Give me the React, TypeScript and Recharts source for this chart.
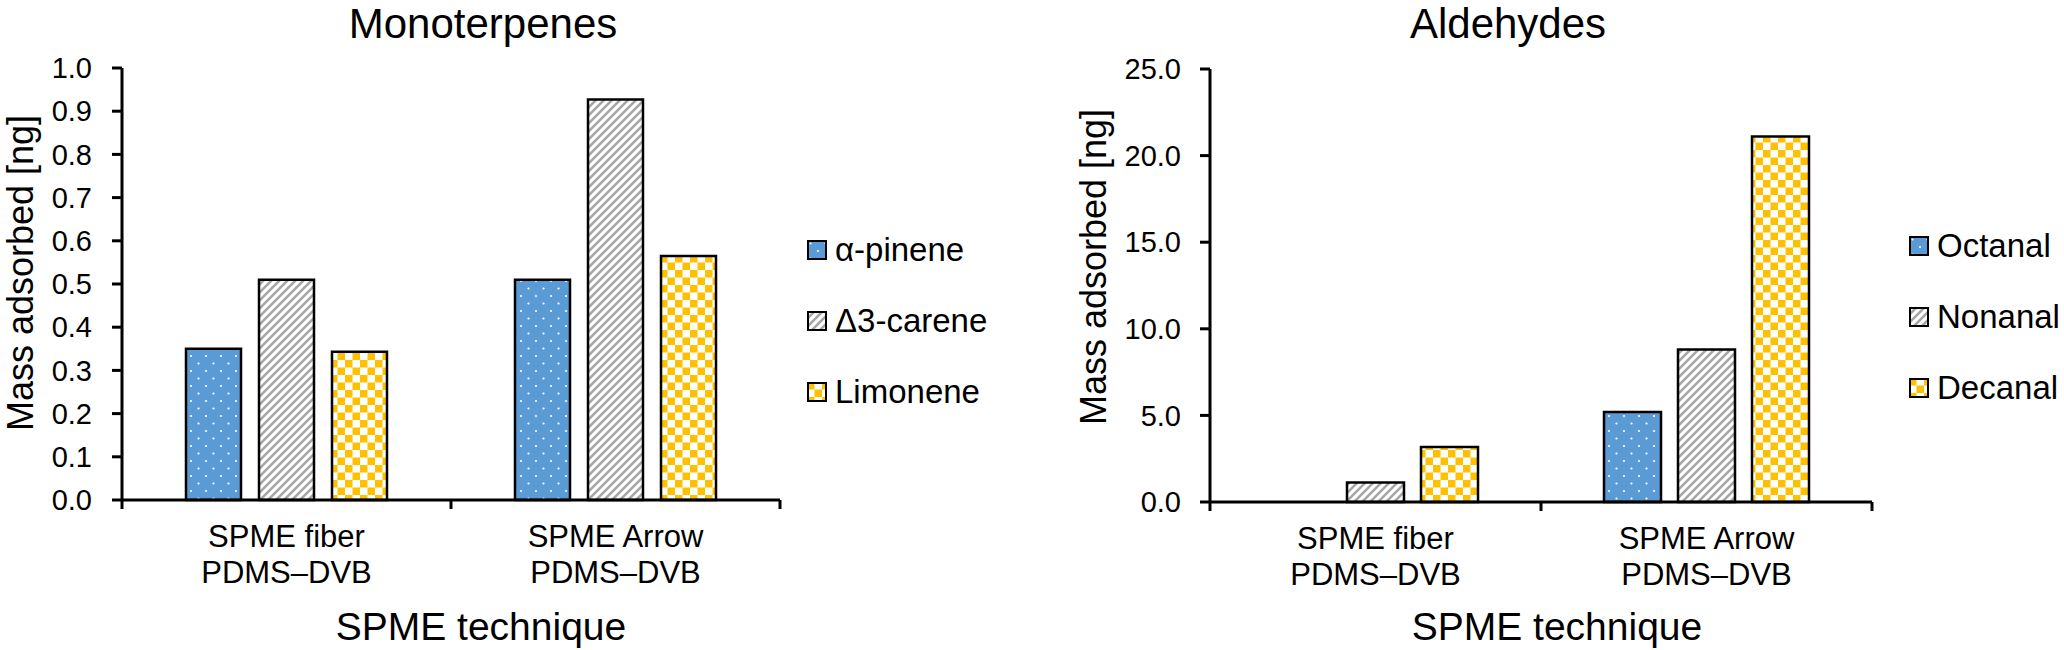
import { Bar, BarChart, Legend, XAxis, YAxis } from "recharts";

const FONT = '"Liberation Sans", Arial, Helvetica, sans-serif';

// categories on the x axis (two lines each)
const categories = ["SPME fiber", "SPME Arrow"];
const coatings = ["PDMS–DVB", "PDMS–DVB"];

// Monoterpenes, mass adsorbed [ng]
const alphaPinene = [0.35, 0.51];
const delta3Carene = [0.51, 0.927];
const limonene = [0.343, 0.565];
const monoTicks = [0, 0.1, 0.2, 0.3, 0.4, 0.5, 0.6, 0.7, 0.8, 0.9, 1.0];

// Aldehydes, mass adsorbed [ng]
const octanal = [0, 5.2];
const nonanal = [1.13, 8.8];
const decanal = [3.17, 21.1];
const aldTicks = [0, 5, 10, 15, 20, 25];

const monoData = categories.map((category, i) => ({
  category,
  alphaPinene: alphaPinene[i],
  delta3Carene: delta3Carene[i],
  limonene: limonene[i],
}));

const aldData = categories.map((category, i) => ({
  category,
  octanal: octanal[i],
  nonanal: nonanal[i],
  decanal: decanal[i],
}));

type Series = { key: string; name: string; fill: string };

const monoSeries: Series[] = [
  { key: "alphaPinene", name: "α-pinene", fill: "url(#dots)" },
  { key: "delta3Carene", name: "Δ3-carene", fill: "url(#stripes)" },
  { key: "limonene", name: "Limonene", fill: "url(#checks)" },
];

const aldSeries: Series[] = [
  { key: "octanal", name: "Octanal", fill: "url(#dots)" },
  { key: "nonanal", name: "Nonanal", fill: "url(#stripes)" },
  { key: "decanal", name: "Decanal", fill: "url(#checks)" },
];

// Excel-ish pattern fills shared by both charts
function Patterns() {
  return (
    <svg width={0} height={0} style={{ position: "absolute" }}>
      <defs>
        <pattern id="dots" patternUnits="userSpaceOnUse" width={15} height={15}>
          <rect width={15} height={15} fill="#5B9BD5" />
          <circle cx={3.5} cy={3.5} r={1.1} fill="#fff" />
          <circle cx={11} cy={11} r={1.1} fill="#fff" />
        </pattern>
        <pattern id="stripes" patternUnits="userSpaceOnUse" width={8} height={8}>
          <rect width={8} height={8} fill="#fff" />
          <path d="M-2,2 L2,-2 M0,8 L8,0 M6,10 L10,6" stroke="#A5A5A5" strokeWidth={2.5} />
        </pattern>
        <pattern id="checks" patternUnits="userSpaceOnUse" width={15} height={15}>
          <rect width={15} height={15} fill="#fff" />
          <rect width={7.5} height={7.5} fill="#FFC000" />
          <rect x={7.5} y={7.5} width={7.5} height={7.5} fill="#FFC000" />
        </pattern>
      </defs>
    </svg>
  );
}

// two-line category label + tick marks on the category boundaries
function CategoryTick(props: any) {
  const { x, y, payload, index, visibleTicksCount } = props;
  const half = payload.offset ?? 165;
  const i = categories.indexOf(payload.value);
  const last = index === (visibleTicksCount ?? categories.length) - 1;
  return (
    <g>
      <line x1={x - half} x2={x - half} y1={y} y2={y + 9} stroke="#000" strokeWidth={3} />
      {last && <line x1={x + half} x2={x + half} y1={y} y2={y + 9} stroke="#000" strokeWidth={3} />}
      <text x={x} y={y + 47} textAnchor="middle" fontSize={31} fill="#000" fontFamily={FONT}>
        {categories[i]}
      </text>
      <text x={x} y={y + 83} textAnchor="middle" fontSize={31} fill="#000" fontFamily={FONT}>
        {coatings[i]}
      </text>
    </g>
  );
}

// legend keeps the series order (recharts sorts by name otherwise)
function PatternLegend({ series }: { series: Series[] }) {
  return (
    <div style={{ display: "flex", flexDirection: "column", fontFamily: FONT }}>
      {series.map((s) => (
        <div
          key={s.key}
          style={{ display: "flex", alignItems: "center", height: 71, whiteSpace: "nowrap" }}
        >
          <svg width={20} height={20}>
            <rect x={1} y={1} width={18} height={18} fill={s.fill} stroke="#000" strokeWidth={2} />
          </svg>
          <span style={{ marginLeft: 8, fontSize: 33, color: "#000" }}>{s.name}</span>
        </div>
      ))}
    </div>
  );
}

const axisLine = { stroke: "#000", strokeWidth: 3 };
const tickStyle = { fill: "#000", fontSize: 29, fontFamily: FONT };

export default function App() {
  return (
    <div
      style={{
        position: "absolute",
        left: 0,
        top: 0,
        width: 2064,
        height: 650,
        background: "#fff",
        fontFamily: FONT,
        overflow: "hidden",
      }}
    >
      <Patterns />

      <div style={{ position: "absolute", left: 0, top: 0 }}>
        <BarChart
          width={1060}
          height={650}
          data={monoData}
          margin={{ top: 68, right: 280, bottom: 50, left: 0 }}
          barSize={55}
          barGap={18}
        >
          <XAxis
            dataKey="category"
            height={100}
            interval={0}
            tickLine={false}
            tickSize={0}
            tickMargin={0}
            axisLine={axisLine}
            tick={<CategoryTick />}
          />
          <YAxis
            width={122}
            domain={[0, 1]}
            ticks={monoTicks}
            interval={0}
            tickFormatter={(v: number) => v.toFixed(1)}
            tick={tickStyle}
            tickSize={10}
            tickMargin={20}
            axisLine={axisLine}
            tickLine={axisLine}
          />
          <Legend
            layout="vertical"
            align="center"
            verticalAlign="middle"
            content={<PatternLegend series={monoSeries} />}
            wrapperStyle={{ left: 807, top: 214, width: "auto" }}
          />
          {monoSeries.map((s) => (
            <Bar
              key={s.key}
              dataKey={s.key}
              name={s.name}
              fill={s.fill}
              stroke="#000"
              strokeWidth={2.5}
              isAnimationActive={false}
            />
          ))}
        </BarChart>
      </div>

      <div style={{ position: "absolute", left: 1088, top: 0 }}>
        <BarChart
          width={976}
          height={650}
          data={aldData}
          margin={{ top: 69, right: 192, bottom: 48, left: 0 }}
          barSize={57}
          barGap={17}
        >
          <XAxis
            dataKey="category"
            height={100}
            interval={0}
            tickLine={false}
            tickSize={0}
            tickMargin={0}
            axisLine={axisLine}
            tick={<CategoryTick />}
          />
          <YAxis
            width={122}
            domain={[0, 25]}
            ticks={aldTicks}
            interval={0}
            tickFormatter={(v: number) => v.toFixed(1)}
            tick={tickStyle}
            tickSize={10}
            tickMargin={19}
            axisLine={axisLine}
            tickLine={axisLine}
          />
          <Legend
            layout="vertical"
            align="center"
            verticalAlign="middle"
            content={<PatternLegend series={aldSeries} />}
            wrapperStyle={{ left: 821, top: 210, width: "auto" }}
          />
          {aldSeries.map((s) => (
            <Bar
              key={s.key}
              dataKey={s.key}
              name={s.name}
              fill={s.fill}
              stroke="#000"
              strokeWidth={2.5}
              isAnimationActive={false}
            />
          ))}
        </BarChart>
      </div>

      {/* titles and axis titles */}
      <svg
        width={2064}
        height={650}
        style={{ position: "absolute", left: 0, top: 0, pointerEvents: "none" }}
        fontFamily={FONT}
        fill="#000"
      >
        <text x={483} y={38} textAnchor="middle" fontSize={42}>Monoterpenes</text>
        <text x={1508} y={38} textAnchor="middle" fontSize={42}>Aldehydes</text>
        <text transform="translate(33,273) rotate(-90)" textAnchor="middle" fontSize={36}>
          Mass adsorbed [ng]
        </text>
        <text transform="translate(1106,267) rotate(-90)" textAnchor="middle" fontSize={36}>
          Mass adsorbed [ng]
        </text>
        <text x={481} y={640} textAnchor="middle" fontSize={39}>SPME technique</text>
        <text x={1557} y={640} textAnchor="middle" fontSize={39}>SPME technique</text>
      </svg>
    </div>
  );
}
